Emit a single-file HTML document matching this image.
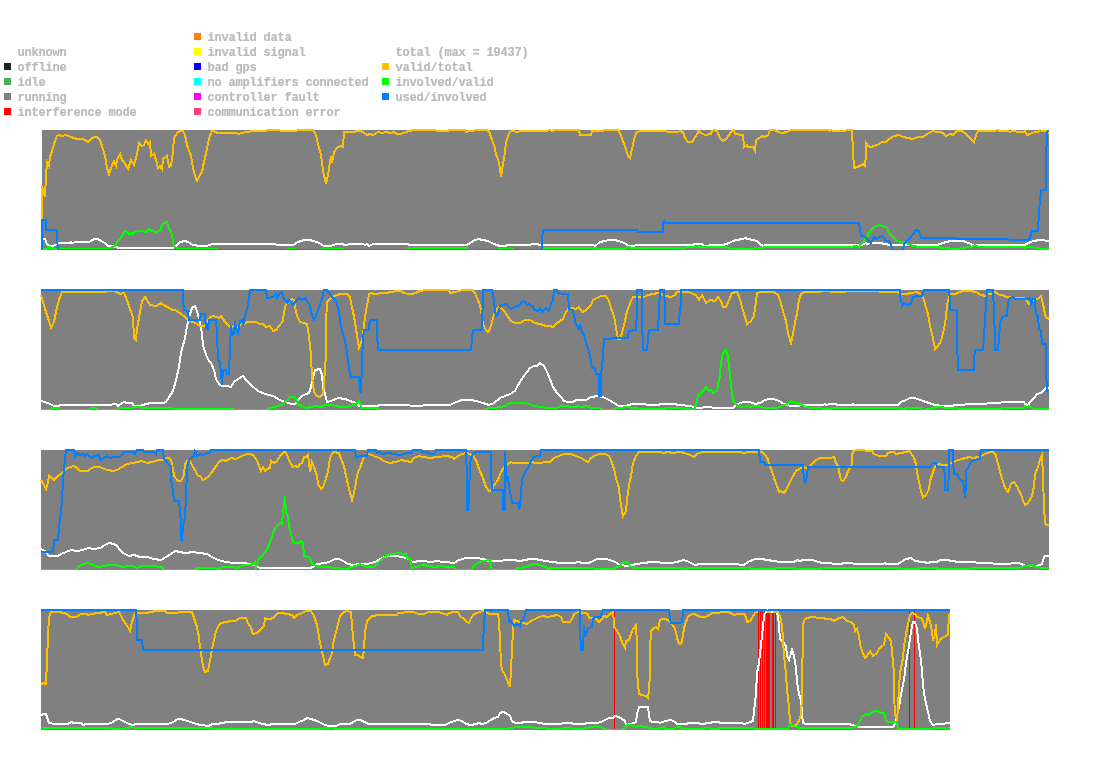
<!DOCTYPE html>
<html><head><meta charset="utf-8"><title>status</title>
<style>
html,body{margin:0;padding:0;background:#fff;}
body{width:1095px;height:764px;position:relative;overflow:hidden;font-family:"Liberation Mono",monospace;font-size:12px;letter-spacing:-0.2px;color:#bababa;}
.sw{position:absolute;width:7px;height:7px;}
.lb{position:absolute;white-space:pre;line-height:12px;height:12px;font-weight:bold;-webkit-text-stroke:0.2px #bababa;}
svg{position:absolute;left:0;top:0;}
polyline{fill:none;stroke-width:2;stroke-linejoin:miter;stroke-linecap:butt;}
</style></head><body>
<div class="lb" style="left:17.5px;top:47px">unknown</div>
<div class="sw" style="left:4px;top:63px;background:#202020"></div><div class="lb" style="left:17.5px;top:62px">offline</div>
<div class="sw" style="left:4px;top:78px;background:#4caf50"></div><div class="lb" style="left:17.5px;top:77px">idle</div>
<div class="sw" style="left:4px;top:93px;background:#808080"></div><div class="lb" style="left:17.5px;top:92px">running</div>
<div class="sw" style="left:4px;top:108px;background:#ff0000"></div><div class="lb" style="left:17.5px;top:107px">interference mode</div>
<div class="sw" style="left:194px;top:33px;background:#ff7f00"></div><div class="lb" style="left:207.5px;top:32px">invalid data</div>
<div class="sw" style="left:194px;top:48px;background:#ffff00"></div><div class="lb" style="left:207.5px;top:47px">invalid signal</div>
<div class="sw" style="left:194px;top:63px;background:#0000ff"></div><div class="lb" style="left:207.5px;top:62px">bad gps</div>
<div class="sw" style="left:194px;top:78px;background:#00ffff"></div><div class="lb" style="left:207.5px;top:77px">no amplifiers connected</div>
<div class="sw" style="left:194px;top:93px;background:#ff00ff"></div><div class="lb" style="left:207.5px;top:92px">controller fault</div>
<div class="sw" style="left:194px;top:108px;background:#ff4080"></div><div class="lb" style="left:207.5px;top:107px">communication error</div>
<div class="lb" style="left:395.5px;top:47px">total (max = 19437)</div>
<div class="sw" style="left:382px;top:63px;background:#ffc000"></div><div class="lb" style="left:395.5px;top:62px">valid/total</div>
<div class="sw" style="left:382px;top:78px;background:#00ff00"></div><div class="lb" style="left:395.5px;top:77px">involved/valid</div>
<div class="sw" style="left:382px;top:93px;background:#0080ff"></div><div class="lb" style="left:395.5px;top:92px">used/involved</div>
<svg width="1095" height="764" viewBox="0 0 1095 764" shape-rendering="crispEdges">
<clipPath id="c1"><rect x="40" y="129" width="1009" height="121"/></clipPath>
<rect x="42" y="130" width="1007" height="120" fill="#808080"/>
<g clip-path="url(#c1)">
<polyline stroke="#ffffff" points="42,249 42,239 45,239 47,244 49,246 53,246 57,244 59,243 70,243 71,242 72,243 76,242 89,242 91,241 94,239 98,239 101,241 105,243 108,246 111,246 117,247 118,248 173,248 176,246 180,242 185,241 188,242 193,245 200,246 207,246 212,244 222,244 275,244 277,245 293,245 298,242 304,240 309,240 314,241 319,243 324,246 331,246 336,244 341,244 346,245 350,244 360,244 363,244 365,245 367,244 369,246 373,244 374,244 408,244 409,245 466,245 469,244 473,241 478,239 483,240 488,241 494,244 500,246 505,246 508,245 520,245 530,245 532,244 534,244 537,244 540,245 593,245 595,246 600,242 605,241 609,240 614,240 619,241 624,243 629,246 634,246 636,245 680,245 693,245 694,244 702,244 704,246 714,245 723,245 726,244 729,243 733,241 736,240 743,239 745,238 748,239 753,240 757,241 760,244 763,246 765,245 840,245 857,245 860,246 864,244 866,243 867,244 871,243 881,243 884,244 891,245 937,245 940,244 946,242 951,241 963,241 966,242 971,244 974,246 978,245 1000,245 1024,245 1027,244 1030,242 1034,241 1039,240 1044,240 1046,241 1049,241"/>
<polyline stroke="#ffc000" points="42,219 42,185 43,190 45,197 46,176 47,162 49,166 50,157 52,151 54,144 57,136 59,135 62,136 66,135 71,137 77,139 82,139 85,140 88,142 91,139 94,137 97,137 100,140 102,146 105,156 107,168 109,174 111,168 114,161 116,166 117,160 120,154 122,160 124,162 128,169 131,160 134,165 137,154 139,143 142,146 144,145 146,140 148,144 150,142 151,156 154,154 156,160 158,168 160,166 162,169 163,159 167,156 169,167 171,166 173,151 174,138 177,133 180,131 183,131 185,135 187,145 191,156 193,168 195,176 197,181 200,175 202,172 204,162 207,149 209,138 212,131 214,131 217,133 227,133 236,133 238,134 246,132 254,131 266,131 267,130 279,130 281,131 293,131 301,130 313,130 316,135 318,144 321,155 323,171 326,184 328,175 330,162 331,156 332,163 334,152 337,148 340,146 343,147 344,132 354,132 357,131 360,131 363,132 367,135 370,134 373,135 378,132 382,133 386,132 391,133 394,132 397,134 401,134 406,132 409,131 414,130 435,130 437,131 448,131 449,130 465,130 466,132 469,131 473,131 475,130 486,130 489,131 491,137 494,145 496,154 499,162 501,177 503,164 505,152 506,143 508,136 510,132 512,131 518,132 520,131 547,131 549,130 553,131 554,130 579,130 580,135 591,135 592,131 603,131 604,130 618,130 620,133 623,141 626,149 628,156 630,158 632,149 634,140 636,133 637,132 641,131 666,131 668,132 678,132 680,131 683,132 685,138 688,142 692,142 694,139 697,134 699,131 701,133 705,135 711,134 712,131 714,130 717,131 720,138 723,141 726,139 729,135 731,132 734,130 735,134 743,135 744,147 747,145 748,147 753,147 755,151 756,140 758,139 762,136 765,137 768,135 770,130 775,130 778,132 782,133 787,132 791,130 793,130 828,130 830,131 831,130 833,131 840,131 852,130 853,151 854,168 857,167 860,166 863,164 865,166 866,154 866,143 868,146 871,147 874,146 877,145 882,142 886,142 889,139 894,136 899,135 903,137 908,138 913,139 918,137 923,137 927,134 931,132 933,131 937,132 941,132 944,134 946,136 950,134 953,135 957,131 962,131 966,134 971,139 974,142 976,135 978,131 995,131 997,130 1000,131 1008,131 1010,132 1012,131 1015,131 1017,132 1024,132 1025,131 1027,135 1030,134 1034,132 1038,132 1040,130 1042,131 1046,131 1047,132 1049,133"/>
<polyline stroke="#00ff00" points="41,249 47,249 49,247 52,248 54,249 106,249 110,248 115,246 117,242 120,239 123,234 125,231 127,232 129,234 132,233 133,234 135,232 139,231 142,231 146,232 149,229 151,231 152,230 156,233 158,231 160,231 162,225 164,223 167,222 169,229 171,231 173,242 174,246 178,249 196,249 198,248 200,249 217,249 218,250 287,250 288,249 294,249 295,250 321,250 322,249 343,249 344,250 407,250 408,248 467,248 468,250 498,250 499,249 504,249 505,248 507,249 513,249 514,250 541,250 543,248 595,248 598,249 624,249 626,248 629,247 632,248 680,248 685,248 687,247 726,247 728,248 734,249 753,249 755,248 760,248 762,248 764,247 840,247 852,247 854,246 857,246 859,247 861,244 864,241 867,236 871,230 874,227 879,225 883,226 887,228 889,233 893,237 896,240 900,242 905,242 908,244 913,246 920,247 939,247 942,248 957,249 963,248 969,247 976,246 980,247 1000,247 1024,247 1025,248 1027,247 1039,248 1040,249 1049,249"/>
<polyline stroke="#0080ff" points="42,250 42,220 46,220 46,230 57,230 57,237 58,250 200,250 360,250 520,250 542,250 542,241 543,230 637,230 638,232 663,232 663,225 664,220 664,223 680,223 840,223 859,223 860,229 861,236 864,236 866,238 868,240 871,243 874,237 876,239 878,238 882,236 884,238 886,241 889,241 891,244 892,250 903,250 904,244 906,242 910,238 913,234 916,230 919,231 921,238 956,238 957,239 1000,239 1008,239 1010,240 1029,240 1031,234 1032,231 1038,231 1039,212 1040,200 1041,190 1046,190 1046,161 1047,132 1048,130"/>
</g>
<clipPath id="c2"><rect x="40" y="289" width="1009" height="121"/></clipPath>
<rect x="41" y="290" width="1008" height="120" fill="#808080"/>
<g clip-path="url(#c2)">
<polyline stroke="#ffffff" points="41,401 45,402 50,404 54,406 59,406 60,405 111,405 113,404 116,404 118,406 122,403 124,402 127,403 132,403 134,406 140,406 146,404 151,403 163,403 166,402 169,397 173,391 176,380 179,367 181,353 185,338 187,326 190,314 192,308 195,306 197,311 199,319 200,323 202,334 203,345 206,355 209,361 211,363 214,370 216,379 219,384 222,386 227,386 231,387 234,382 238,379 243,376 246,380 251,385 258,391 265,394 273,396 280,400 285,402 292,404 295,404 299,399 302,396 306,394 309,393 311,387 312,382 315,370 320,369 322,375 323,387 325,394 327,402 331,401 338,398 345,399 353,402 357,403 359,406 363,406 377,406 380,405 409,405 411,406 422,406 424,405 450,405 454,403 459,401 462,400 471,400 476,401 483,403 489,405 494,403 500,398 505,396 510,394 515,391 518,385 520,382 523,377 527,372 530,368 534,366 537,366 540,363 544,366 547,372 550,379 553,387 557,393 561,397 564,401 568,402 573,402 576,400 586,400 591,397 598,396 603,397 609,400 614,403 619,406 626,406 632,404 643,404 649,405 658,405 661,404 673,404 680,405 690,406 694,407 697,408 709,407 711,407 713,408 733,408 736,405 740,403 744,402 750,402 755,404 760,403 765,400 769,399 774,399 779,401 784,404 791,406 797,406 803,405 823,405 825,404 826,405 830,404 833,404 840,405 852,405 853,404 854,405 898,405 901,402 906,400 910,398 914,398 918,399 923,401 929,403 935,405 942,406 951,406 956,405 964,405 966,404 986,404 988,403 990,403 1000,403 1002,402 1024,402 1025,404 1028,405 1030,402 1034,398 1037,394 1041,393 1044,390 1046,388 1049,388"/>
<polyline stroke="#ffc000" points="41,295 43,302 46,312 49,321 51,328 54,322 57,307 60,297 62,292 74,292 91,292 101,292 113,291 117,292 120,294 124,293 127,300 130,309 133,317 134,338 136,340 137,329 140,312 142,301 145,297 147,300 150,305 156,306 158,305 161,303 165,306 168,307 172,310 175,310 180,313 185,317 189,321 193,322 197,324 200,326 204,326 207,322 210,317 214,316 219,318 221,316 225,322 228,325 231,328 234,326 238,327 241,324 244,324 247,322 251,322 256,322 260,324 263,324 266,327 270,326 273,331 276,330 279,326 283,321 284,312 286,304 289,302 292,299 294,300 295,307 297,316 300,322 304,323 307,324 309,336 311,356 312,377 314,392 317,396 320,397 323,394 324,384 326,353 326,324 327,302 330,299 334,296 340,294 347,294 350,297 352,307 355,322 357,336 359,348 361,343 363,336 364,324 366,311 368,300 369,294 371,293 374,294 378,294 380,293 386,293 391,292 397,291 401,291 404,293 408,294 411,294 416,293 419,291 428,290 449,290 450,293 455,292 459,291 463,290 472,290 475,293 477,298 480,305 482,317 483,324 486,330 488,332 490,329 492,322 494,314 497,309 500,306 502,309 505,312 508,317 511,321 515,323 520,323 525,320 530,320 535,323 540,324 546,326 550,326 553,327 557,323 563,319 565,314 568,309 571,308 576,309 579,307 582,312 585,311 587,309 591,305 593,300 597,298 601,296 606,296 609,301 611,308 614,316 616,328 618,339 620,339 622,333 625,321 627,311 631,301 633,297 637,297 640,297 644,297 648,295 653,294 658,293 661,294 666,296 671,297 675,295 677,292 680,292 689,292 693,294 696,295 699,300 702,295 706,303 710,300 715,301 718,297 721,301 723,307 726,307 729,300 732,293 737,292 740,299 742,307 745,317 747,324 751,321 754,316 756,302 757,293 761,292 774,292 778,295 780,300 783,311 786,321 788,333 791,343 792,339 794,328 797,313 799,300 801,294 804,292 811,292 814,292 828,291 833,292 840,292 852,291 857,291 871,291 886,292 898,292 901,294 906,294 911,293 917,292 920,294 923,297 925,304 928,314 930,326 933,338 935,349 938,346 941,341 944,329 946,317 947,305 949,297 951,294 956,294 959,292 964,291 971,291 976,292 981,295 986,296 988,294 991,294 995,292 998,294 1000,295 1003,295 1006,297 1012,297 1015,298 1024,298 1027,301 1029,304 1031,302 1035,300 1039,298 1041,296 1043,304 1045,314 1046,317 1049,319"/>
<polyline stroke="#00ff00" points="41,410 50,410 52,408 59,408 60,410 89,410 91,408 96,408 98,410 117,410 118,408 132,408 134,407 139,407 144,408 200,409 267,410 270,408 275,407 277,406 282,405 285,402 288,399 290,397 294,397 296,399 298,404 301,406 306,408 311,407 317,406 320,407 326,405 331,405 336,406 341,407 346,407 351,406 356,404 359,401 362,408 377,408 379,410 484,410 488,408 494,408 500,407 505,406 510,403 520,403 525,403 529,404 534,406 540,407 549,408 557,408 561,406 568,406 569,407 574,407 579,406 581,407 586,406 591,408 600,408 602,410 614,410 615,408 622,408 624,407 636,408 639,409 665,409 666,408 680,408 694,410 695,407 697,401 698,396 701,393 704,390 706,387 709,391 711,390 713,393 717,391 718,385 720,375 721,362 723,353 726,350 728,356 729,367 731,384 732,396 734,402 738,406 743,407 747,406 750,407 753,406 758,406 765,408 777,408 782,406 787,404 791,401 796,403 801,404 805,407 813,408 830,409 833,408 840,408 901,408 903,410 906,408 922,408 923,410 930,409 932,408 937,407 942,407 946,408 957,408 959,409 1000,409 1003,408 1024,408 1025,406 1027,407 1029,406 1032,408 1035,409 1049,409"/>
<polyline stroke="#0080ff" points="41,290 183,290 183,300 184,310 188,311 189,320 200,320 201,314 205,314 206,329 208,329 209,320 216,320 217,334 218,360 220,362 222,385 223,370 226,370 227,374 229,374 230,348 231,326 232,335 234,334 235,321 236,329 238,333 240,321 242,320 243,326 245,316 248,305 250,290 266,290 267,298 273,297 276,294 277,298 280,293 282,292 283,297 287,303 289,300 293,305 295,302 299,298 302,300 305,298 307,301 310,306 312,316 314,320 317,314 319,307 322,299 324,290 327,290 329,293 333,298 336,301 339,311 340,321 342,331 345,340 346,347 348,360 350,374 351,377 359,377 360,392 361,392 362,362 363,339 364,330 369,330 369,324 371,320 377,320 377,334 378,350 471,350 472,339 473,330 482,330 483,290 492,290 494,300 495,311 496,316 498,314 500,306 503,305 506,304 508,306 511,309 515,307 517,306 520,305 522,302 524,301 527,305 529,304 533,307 535,310 538,311 540,308 542,312 546,308 549,311 551,304 553,300 554,290 557,290 558,293 564,294 568,294 569,309 573,310 574,316 576,325 579,329 580,324 582,332 584,335 586,343 589,351 591,362 592,368 595,368 596,374 599,374 599,396 601,396 601,375 603,356 604,339 620,338 628,338 629,331 636,330 637,311 637,290 642,290 642,319 643,350 647,350 648,339 649,330 658,330 659,311 660,290 664,290 665,307 665,324 679,324 680,307 681,307 681,290 840,290 900,290 900,295 902,306 904,303 907,305 911,304 913,297 917,296 922,296 923,293 924,290 949,290 950,300 950,310 957,310 957,339 958,370 974,370 974,360 975,350 983,350 984,336 985,320 986,305 987,290 993,290 994,311 995,339 995,350 998,350 999,339 1000,324 1002,317 1004,316 1007,316 1008,302 1010,298 1013,297 1015,299 1028,299 1030,298 1031,304 1033,299 1035,299 1035,307 1037,316 1038,316 1039,329 1041,330 1042,344 1046,344 1046,368 1047,391 1049,392"/>
</g>
<clipPath id="c3"><rect x="40" y="449" width="1009" height="121"/></clipPath>
<rect x="41" y="450" width="1008" height="120" fill="#808080"/>
<g clip-path="url(#c3)">
<polyline stroke="#ffffff" points="41,549 45,551 49,556 53,556 58,556 61,554 66,552 71,550 77,551 83,550 88,548 94,549 100,548 105,545 109,543 114,544 117,546 120,550 123,553 129,556 134,555 140,557 147,557 154,559 161,560 166,557 171,554 175,551 180,552 185,553 188,553 191,552 200,553 207,554 212,557 218,560 226,562 234,563 243,563 251,564 256,566 260,568 311,568 314,566 317,564 326,563 331,561 335,559 339,559 343,561 348,564 353,565 360,564 367,564 375,562 380,559 387,556 394,556 403,557 408,559 413,562 420,561 433,562 435,561 445,562 454,563 459,560 466,558 477,558 483,559 489,561 501,561 505,560 513,560 520,561 525,560 530,559 535,559 540,560 546,561 552,562 561,563 574,563 578,562 583,563 588,563 591,562 597,559 602,559 606,559 610,560 615,562 620,565 627,566 632,565 637,564 643,563 646,563 649,562 671,563 677,562 680,561 684,560 689,562 695,565 700,564 738,564 740,565 744,565 748,562 755,559 762,559 767,560 774,561 780,562 794,562 797,560 800,561 803,560 813,560 818,562 823,563 840,564 845,563 852,563 854,564 883,564 885,563 886,564 898,564 901,562 906,559 911,558 915,561 922,562 929,563 930,562 933,562 937,562 940,560 947,560 952,561 959,562 974,562 978,563 991,563 995,564 1000,564 1010,564 1012,563 1018,563 1022,564 1025,566 1030,566 1037,566 1042,564 1044,557 1045,556 1049,556"/>
<polyline stroke="#ffc000" points="41,480 43,483 46,489 48,482 49,476 52,478 54,480 58,476 62,473 66,469 70,467 74,466 77,468 80,471 88,471 90,469 94,467 100,467 104,469 108,470 113,471 117,470 122,467 127,464 133,463 137,462 142,461 147,463 152,462 159,460 163,460 165,458 169,458 171,460 173,469 174,476 178,481 181,481 184,475 185,464 187,461 190,461 192,465 196,472 198,476 200,476 203,480 208,477 212,472 216,466 220,461 223,460 226,461 229,459 231,458 236,459 240,457 244,455 248,454 251,454 254,456 257,461 260,468 261,471 263,467 265,471 267,469 270,468 271,461 274,463 277,461 280,456 283,453 285,451 287,455 289,460 291,464 293,467 295,466 298,467 300,464 302,463 304,457 306,457 308,455 309,462 310,472 312,462 314,467 317,476 318,484 321,489 323,487 325,482 328,471 330,458 332,454 334,452 339,453 341,459 344,466 346,476 349,489 352,500 354,493 356,482 358,472 360,468 362,462 364,457 369,454 374,456 379,458 384,461 389,463 396,462 401,460 406,461 411,462 414,458 419,456 423,457 430,458 437,457 447,456 452,457 454,459 458,456 462,454 466,453 470,454 473,456 476,460 479,469 483,478 486,487 489,491 492,490 494,485 498,480 501,472 505,466 508,464 511,462 513,463 520,463 529,463 532,462 535,463 540,463 546,462 550,462 554,458 559,456 564,454 571,454 576,456 581,458 586,461 588,462 591,458 596,455 600,454 605,454 609,456 611,460 614,469 616,478 619,488 620,499 622,511 623,516 626,511 627,499 629,486 631,476 633,463 636,456 639,452 661,452 663,453 668,452 673,453 680,452 685,453 690,455 694,457 697,454 702,452 714,452 719,452 724,452 740,452 744,453 748,452 755,452 762,452 765,455 768,459 769,464 772,471 774,478 777,486 779,492 781,491 784,493 786,490 789,484 792,478 796,471 799,469 803,467 806,468 809,467 813,463 816,460 820,458 830,458 834,457 836,463 838,466 840,476 841,480 843,481 846,477 848,471 850,468 852,464 852,454 854,451 856,450 864,450 866,451 872,451 874,454 879,456 886,456 888,453 891,452 894,452 896,454 901,453 906,452 909,451 911,453 914,458 916,464 917,473 919,482 921,491 923,497 926,495 929,489 930,481 933,472 935,467 939,464 942,465 947,465 951,463 956,461 961,459 966,458 969,457 973,458 978,457 981,456 985,454 990,452 993,452 996,455 997,460 999,467 1000,472 1005,488 1008,492 1011,484 1014,482 1017,486 1019,491 1021,494 1023,501 1025,505 1028,503 1032,496 1034,486 1035,474 1038,467 1040,459 1042,455 1043,476 1044,508 1045,522 1046,525 1049,525"/>
<polyline stroke="#00ff00" points="41,570 76,570 79,566 83,564 88,563 93,565 99,567 103,566 110,565 115,565 120,566 123,567 127,566 132,566 137,568 142,566 152,566 162,567 163,570 195,570 197,568 200,568 215,568 217,570 220,568 224,567 234,567 237,568 240,567 244,565 249,565 253,564 255,562 256,567 259,559 262,556 265,552 268,548 271,540 274,530 276,527 280,523 282,524 283,513 284,505 285,496 286,513 288,516 289,527 291,534 293,542 295,543 299,543 300,541 303,543 304,557 306,556 310,558 312,564 316,566 323,567 328,567 334,568 348,569 351,567 356,566 360,564 367,567 374,567 377,564 382,559 387,555 392,554 399,553 403,554 406,554 407,558 410,559 412,568 416,567 423,565 430,566 435,567 440,566 447,567 454,567 455,570 471,570 474,566 479,562 484,561 490,560 491,568 492,570 515,570 517,568 520,568 525,567 530,565 535,564 540,565 546,567 548,569 551,568 593,568 595,569 612,569 615,568 620,566 622,563 625,562 627,562 630,566 634,568 680,568 687,569 688,568 750,568 751,569 774,569 775,568 795,568 796,569 821,569 822,568 840,568 900,568 900,569 918,569 919,568 937,568 938,569 971,569 972,568 1000,568 1020,568 1024,566 1028,566 1031,565 1034,566 1037,567 1042,568 1049,568"/>
<polyline stroke="#0080ff" points="41,552 53,552 54,540 58,540 59,528 60,518 61,513 62,499 63,479 65,459 66,450 74,450 75,456 77,453 80,455 83,454 85,456 87,454 89,456 92,458 94,456 99,455 100,460 104,458 107,456 110,458 113,457 120,457 123,454 123,452 133,452 135,454 137,450 143,450 144,452 154,452 156,454 157,450 163,450 164,459 166,461 169,465 171,466 171,479 173,491 174,501 179,501 180,510 181,525 181,540 182,540 183,527 184,522 185,516 186,496 187,471 188,462 191,458 194,456 195,451 197,456 200,454 203,455 205,454 209,453 211,450 355,450 356,458 358,457 360,456 367,456 368,450 376,450 377,453 380,452 382,454 389,453 394,454 401,455 406,453 411,453 413,450 421,450 422,452 427,452 430,454 434,454 436,450 466,450 467,479 467,510 468,510 469,496 470,465 471,457 474,453 477,452 491,452 491,471 492,490 503,490 503,499 503,510 505,510 505,479 505,451 506,471 507,481 508,476 509,488 511,496 512,503 518,503 519,510 520,506 521,494 522,481 524,474 526,471 529,466 531,461 534,457 537,456 540,456 541,450 680,450 759,450 760,462 764,462 765,465 803,465 803,471 805,484 807,476 808,467 840,467 930,467 933,463 936,463 937,467 944,467 945,479 945,490 948,490 949,471 949,450 953,450 953,462 954,474 957,474 960,480 963,481 964,488 965,498 966,484 966,471 969,466 971,462 974,460 980,459 980,455 981,450 1000,450 1049,450"/>
</g>
<clipPath id="c4"><rect x="40" y="609" width="910" height="121"/></clipPath>
<rect x="41" y="610" width="909" height="120" fill="#808080"/>
<g clip-path="url(#c4)">
<rect x="614" y="610" width="1" height="120" fill="#ff0000"/>
<rect x="758" y="610" width="1" height="120" fill="#ff0000"/>
<rect x="760" y="610" width="1" height="120" fill="#ff0000"/>
<rect x="762" y="610" width="1" height="120" fill="#ff0000"/>
<rect x="764" y="610" width="1" height="120" fill="#ff0000"/>
<rect x="766" y="610" width="4" height="120" fill="#ff0000"/>
<rect x="772" y="610" width="2" height="120" fill="#ff0000"/>
<rect x="775" y="610" width="1" height="120" fill="#ff0000"/>
<rect x="909" y="610" width="1" height="120" fill="#ff0000"/>
<rect x="914" y="610" width="1" height="120" fill="#ff0000"/>
<polyline stroke="#ffffff" points="41,715 44,714 46,714 48,720 49,723 55,724 68,724 71,722 74,723 81,723 83,725 86,724 108,724 113,722 117,719 119,719 123,721 127,723 132,725 137,724 168,724 173,722 178,719 180,719 185,720 190,722 197,724 200,725 209,726 212,724 217,724 222,723 227,722 251,722 254,721 256,722 263,724 268,725 273,724 295,724 299,722 304,720 307,718 311,719 317,721 323,724 328,726 336,726 340,724 350,724 353,722 357,720 360,720 363,721 366,723 369,724 430,724 431,725 445,725 449,723 454,721 458,720 462,721 466,724 471,725 476,724 479,723 482,724 486,723 491,720 494,718 498,717 500,713 503,712 506,713 510,716 512,721 515,723 520,723 525,722 535,722 539,723 546,724 561,724 563,723 571,723 574,724 585,724 586,723 598,723 603,721 607,719 609,718 613,718 615,716 619,717 622,719 625,721 626,725 631,724 636,722 637,714 639,707 648,707 649,714 650,721 653,722 658,722 660,723 665,721 671,720 675,722 677,724 680,724 685,724 690,723 697,723 702,724 709,723 714,722 718,722 721,723 741,723 745,724 750,722 753,721 754,711 756,694 757,673 759,663 761,644 763,627 764,615 766,611 775,611 778,615 779,627 780,639 783,642 786,646 787,656 789,660 791,653 792,650 794,656 796,668 797,682 799,694 801,700 802,714 803,723 806,724 840,724 849,724 852,725 856,726 859,727 893,727 895,724 897,716 899,707 901,694 904,680 906,663 909,646 911,631 913,622 915,622 917,629 918,639 920,653 922,670 923,685 925,699 928,712 930,721 933,725 937,724 944,724 946,723 950,723"/>
<polyline stroke="#ffc000" points="41,685 43,683 46,684 47,661 48,636 49,617 51,612 59,612 64,613 67,614 70,617 76,617 81,614 86,614 89,615 91,614 98,613 105,612 107,615 111,614 115,613 119,612 122,618 125,623 128,627 130,631 132,622 134,616 135,613 146,613 156,611 165,611 167,613 176,613 180,612 192,612 194,618 197,627 199,637 200,648 201,654 203,666 205,672 208,671 210,661 212,649 214,640 216,631 219,625 221,623 226,622 231,621 235,621 240,618 246,618 248,623 251,628 253,634 257,633 260,630 264,626 265,618 267,619 271,619 274,617 278,613 282,613 287,614 292,615 294,618 297,615 302,613 306,611 311,611 314,616 317,625 319,637 321,648 323,656 325,665 328,664 330,658 332,654 333,644 335,636 338,624 340,616 344,612 347,611 351,612 352,625 353,636 354,646 355,655 358,655 360,657 363,658 364,648 365,632 367,621 369,619 372,616 379,615 386,615 391,615 397,615 398,613 411,612 414,612 418,614 424,614 428,612 438,612 445,614 447,615 449,613 454,612 458,612 460,616 464,619 467,622 469,623 471,618 474,614 477,613 482,611 486,612 489,614 494,614 498,614 499,620 500,641 501,663 502,670 505,675 507,680 510,687 511,670 512,649 513,631 514,620 517,621 520,622 523,623 527,624 531,621 535,619 539,617 543,616 548,617 552,616 557,615 561,617 563,622 567,622 570,622 573,617 574,614 578,612 585,613 588,614 589,618 595,618 597,620 599,622 602,619 604,616 607,617 610,614 613,612 614,622 614,627 617,631 620,636 622,642 625,648 626,641 629,640 631,634 633,629 636,625 637,644 637,673 639,694 642,695 646,696 648,698 649,690 650,673 650,649 651,631 654,628 656,627 658,629 660,620 662,619 666,619 669,621 672,624 675,629 677,637 678,642 680,644 682,642 683,634 685,624 688,617 690,615 694,614 697,615 700,617 704,617 708,616 712,613 717,613 723,612 728,612 731,613 734,615 738,614 744,614 746,617 747,622 750,621 752,618 755,613 757,612 769,612 778,612 780,616 782,625 783,639 784,656 786,673 787,690 789,707 790,722 792,726 796,725 799,721 801,714 802,697 802,673 803,644 803,624 805,619 808,618 811,617 814,617 818,618 823,618 826,619 831,619 834,621 837,619 840,618 843,617 847,621 851,622 854,625 855,631 857,629 859,636 860,644 862,651 865,658 867,656 870,651 873,656 877,653 879,649 882,646 884,645 886,634 889,638 891,641 892,651 894,673 894,694 895,714 897,721 898,707 899,687 900,673 903,658 904,646 906,634 908,624 910,615 912,613 915,614 917,617 921,618 923,621 925,629 927,621 928,616 930,622 932,631 933,641 935,634 936,624 937,645 940,640 942,638 946,636 948,634 949,615 950,614"/>
<polyline stroke="#00ff00" points="41,728 111,728 112,729 124,729 127,728 132,727 134,728 200,728 212,728 213,729 324,729 325,728 334,728 335,729 360,729 508,729 511,728 517,727 520,727 546,728 547,729 563,729 564,728 571,728 573,729 583,729 586,728 593,727 595,726 600,727 603,728 607,730 622,730 625,728 627,725 631,725 636,727 639,726 646,727 649,728 656,729 660,728 662,728 664,727 666,729 673,729 677,727 680,727 683,729 702,729 704,728 710,728 711,729 718,729 719,728 753,728 755,729 788,729 790,724 792,725 796,727 801,728 840,728 852,728 857,726 860,721 862,717 866,714 869,715 872,712 876,711 878,711 881,713 884,713 886,721 889,722 893,722 895,722 897,722 898,729 932,729 934,728 950,728"/>
<polyline stroke="#0080ff" points="41,610 136,610 137,625 137,640 142,640 143,650 200,650 360,650 483,650 483,644 484,625 485,610 508,610 509,622 511,621 514,626 517,624 520,626 521,621 524,620 525,614 526,610 580,610 580,629 581,650 583,650 584,625 585,637 587,631 588,628 592,627 593,619 595,617 601,617 602,612 603,610 669,610 670,618 671,623 680,623 682,622 683,615 683,610 840,610 950,610"/>
<rect x="758" y="611" width="8" height="2" fill="#808080"/>
<rect x="758" y="611" width="1" height="2" fill="#ff0000"/>
<rect x="760" y="611" width="1" height="2" fill="#ff0000"/>
<rect x="762" y="611" width="1" height="2" fill="#ff0000"/>
<rect x="764" y="611" width="1" height="1" fill="#ff0000"/>
<rect x="765" y="611" width="2" height="2" fill="#ffffff"/>
<rect x="771" y="611" width="2" height="2" fill="#ffffff"/>
<rect x="767" y="609" width="1" height="1" fill="#ffffff"/>
</g>
</svg>
</body></html>
